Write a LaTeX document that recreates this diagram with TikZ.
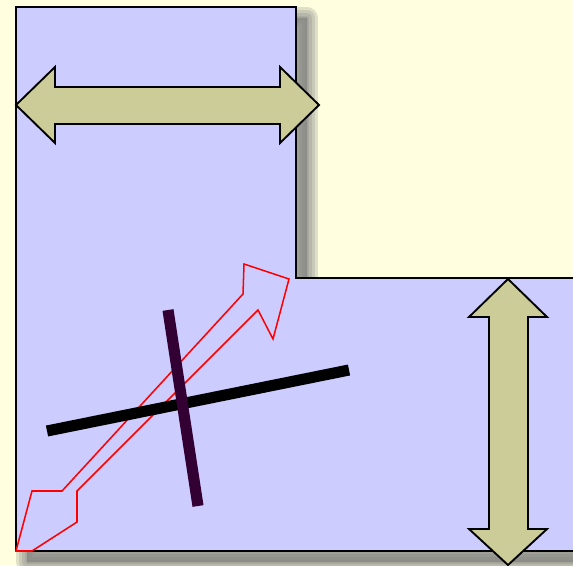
\documentclass[tikz,border=0pt]{standalone}
\usepackage{tikz}
\definecolor{bgyellow}{RGB}{255,255,224}
\definecolor{lavender}{RGB}{204,204,255}
\definecolor{khaki}{RGB}{204,204,153}
\definecolor{darkplum}{RGB}{51,0,51}
\begin{document}
\begin{tikzpicture}[x=0.03cm, y=-0.03cm,
        outline/.style={draw=black, line width=1.6pt, line join=miter},
        bar/.style={line width=9.5pt}]
        \fill[bgyellow] (0,0) rectangle (573,565);
        \useasboundingbox (0,0) rectangle (573,565);
        % soft shadow of the L shape
        \foreach \w in {18,13,8,3} {
            \filldraw[gray, opacity=0.24, line width=\w pt, line join=round, shift={(11,11)}]
                (16,7) -- (296,7) -- (296,278) -- (590,278) -- (590,551) -- (16,551) -- cycle;
        }
        % L shape
        \filldraw[fill=lavender, outline]
            (16,7) -- (296,7) -- (296,278) -- (590,278) -- (590,551) -- (16,551) -- cycle;
        % horizontal double arrow
        \filldraw[fill=khaki, outline]
            (16,105) -- (55,67) -- (55,87) -- (280,87) -- (280,67) -- (319,105)
            -- (280,143) -- (280,124) -- (55,124) -- (55,143) -- cycle;
        % vertical double arrow
        \filldraw[fill=khaki, outline]
            (508,279) -- (547,317) -- (528,317) -- (528,529) -- (547,529) -- (508,565)
            -- (469,529) -- (489,529) -- (489,317) -- (469,317) -- cycle;
        % open red arrow
        \draw[red, line width=1.3pt, line join=miter]
            (16,551) -- (32,491) -- (62,491) -- (243,294) -- (244,264) -- (289,279)
            -- (273,339) -- (258,310) -- (77,491) -- (77,522) -- (32,551) -- cycle;
        % crossing bars
        \draw[black, bar] (47,431) -- (349,370);
        \draw[darkplum, bar] (168,310) -- (198,506);
    \end{tikzpicture}
\end{document}
